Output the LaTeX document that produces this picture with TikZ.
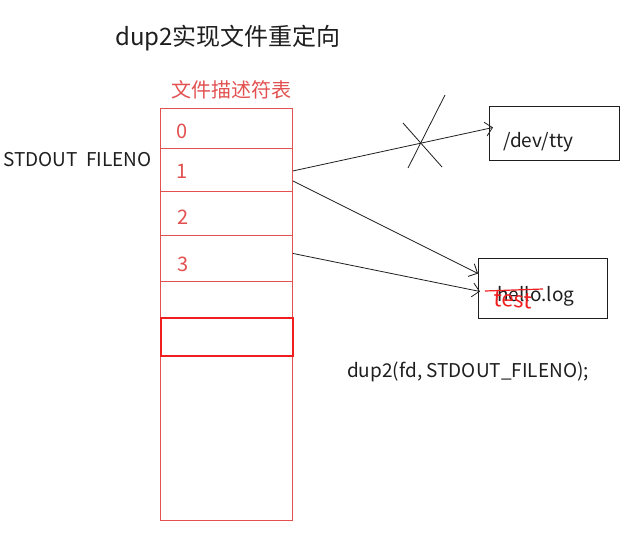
\documentclass[tikz,border=0pt]{standalone}
\usepackage{fontspec}
\setmainfont{Noto Sans CJK SC}
\usetikzlibrary{arrows.meta}
\definecolor{tabred}{RGB}{226,80,80}
\definecolor{hired}{RGB}{240,30,30}
\definecolor{ink}{RGB}{30,30,30}
\tikzset{
  row/.style={draw=tabred, line width=0.9pt, anchor=north west, minimum width=132pt, inner sep=0pt},
  digit/.style={text=tabred, font=\fontsize{20}{20}\selectfont, inner sep=0pt},
  filebox/.style={draw=ink, line width=1pt, anchor=north west, inner sep=0pt},
  lbl/.style={text=ink, font=\fontsize{19}{19}\selectfont, inner sep=0pt},
  link/.style={draw=ink, line width=0.8pt, -{Straight Barb[length=7pt,width=14pt,line width=0.8pt]}},
  cross/.style={draw=ink, line width=0.8pt}
}
\begin{document}
\begin{tikzpicture}[x=1pt,y=-1pt]
\useasboundingbox (0,0) rectangle (634,543);
% title
\node[text=ink, font=\fontsize{24}{24}\selectfont, anchor=west, inner sep=0pt] (title) at (115,38) {dup2实现文件重定向};
\node[text=tabred, font=\fontsize{20}{20}\selectfont, inner sep=0pt] (tlabel) at (231,90) {文件描述符表};
% table
\node[row, minimum height=412pt] (table) at (160,108) {};
\node[row, minimum height=40pt] (r0) at (160,108) {};
\node[row, minimum height=43pt] (r1) at (160,148) {};
\node[row, minimum height=44pt] (r2) at (160,191) {};
\node[row, minimum height=46pt] (r3) at (160,235) {};
\node[row, minimum height=38pt, draw=hired, line width=1.6pt] (r5) at (160,317) {};
\node[digit] (d0) at (182,131) {0};
\node[digit] (d1) at (182,171) {1};
\node[digit] (d2) at (183,217) {2};
\node[digit] (d3) at (183,264) {3};
\node[lbl, anchor=east] (stdout) at (152,160) {STDOUT\ \ FILENO};
% files
\node[filebox, minimum width=130pt, minimum height=54pt] (tty) at (489,106) {};
\node[lbl, anchor=west] (ttyt) at (503,142) {/dev/tty};
\node[filebox, minimum width=129pt, minimum height=60pt] (log) at (478,258) {};
\node[lbl, anchor=west] (logt) at (497,296) {hello.log};
\node[text=hired, font=\fontsize{22}{22}\selectfont\itshape, inner sep=0pt, rotate=-3] (test) at (513,300) {test};
\draw[hired, line width=1.2pt] ([xshift=-28pt,yshift=9pt]test.center) -- ([xshift=30pt,yshift=11pt]test.center);
% arrows
\draw[link] ([yshift=-1pt]r1.east) -- ([xshift=4pt,yshift=6pt]tty.west);
\draw[link] ([yshift=-11pt]r1.east) -- ([yshift=15pt]log.west);
\draw[link] ([yshift=5pt]r3.east) -- ([xshift=2pt,yshift=-3pt]log.west);
% cross on first arrow
\coordinate (x1) at (445,95);
\coordinate (x2) at (408,168);
\coordinate (x3) at (403,123);
\coordinate (x4) at (442,167);
\draw[cross] (x1) -- (x2);
\draw[cross] (x3) -- (x4);
% call
\node[lbl, anchor=west] (call) at (347,372) {dup2(fd, STDOUT\_FILENO);};
\end{tikzpicture}
\end{document}
